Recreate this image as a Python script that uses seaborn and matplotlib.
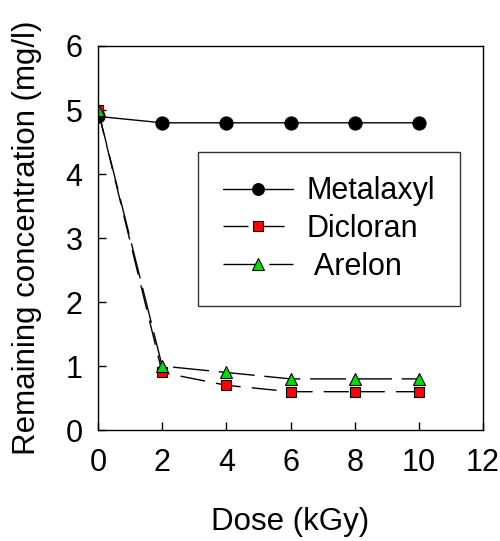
import pandas as pd
import matplotlib
matplotlib.use('Agg')
import matplotlib.pyplot as plt
import seaborn as sns

# Data
dose = [0, 2, 4, 6, 8, 10]
metalaxyl = [4.9, 4.8, 4.8, 4.8, 4.8, 4.8]
dicloran = [5.0, 0.9, 0.7, 0.6, 0.6, 0.6]
arelon = [5.0, 1.0, 0.9, 0.8, 0.8, 0.8]

sns.set_style('ticks')
plt.rcParams['font.family'] = ['Liberation Sans', 'DejaVu Sans']
plt.rcParams['text.color'] = 'black'
plt.rcParams['axes.labelcolor'] = 'black'
plt.rcParams['xtick.color'] = 'black'
plt.rcParams['ytick.color'] = 'black'

fig = plt.figure(figsize=(5, 5.41), dpi=100)
ax = fig.add_axes([0.196, 0.205, 0.77, 0.71])

sns.lineplot(x=dose, y=metalaxyl, ax=ax, color='black', linewidth=1,
             marker='o', markersize=9.5, markerfacecolor='black',
             markeredgecolor='black', label='Metalaxyl')
sns.lineplot(x=dose, y=dicloran, ax=ax, color='black', linewidth=1,
             linestyle=(0, (18, 8)), marker='s', markersize=7.5,
             markerfacecolor='red', markeredgecolor='black',
             markeredgewidth=0.8, label='Dicloran')
sns.lineplot(x=dose, y=arelon, ax=ax, color='black', linewidth=1,
             linestyle=(0, (26, 7)), marker='^', markersize=9,
             markerfacecolor='#00dd00', markeredgecolor='black',
             markeredgewidth=0.8, label=' Arelon')

ax.set_xlim(0, 12)
ax.set_ylim(0, 6)
ax.set_xticks(range(0, 13, 2))
ax.set_yticks(range(0, 7))
ax.tick_params(direction='in', length=6, width=1, labelsize=22,
               top=False, right=False)
ax.tick_params(axis='x', pad=13)
ax.tick_params(axis='y', pad=11)
for s in ax.spines.values():
    s.set_visible(True)
    s.set_linewidth(1)
    s.set_color('black')

ax.set_xlabel('Dose (kGy)', fontsize=22.5, labelpad=21)
ax.set_ylabel('Remaining concentration (mg/l)', fontsize=22.5, labelpad=17)

leg = ax.legend(loc='upper left', bbox_to_anchor=(0.26, 0.724), fontsize=22,
                frameon=True, fancybox=False, edgecolor='black',
                handlelength=2.3, labelspacing=0.25, borderpad=0.8,
                handletextpad=0.45, borderaxespad=0, markerscale=0.9)
leg.get_frame().set_linewidth(1)

fig.savefig('out.png', dpi=100)
